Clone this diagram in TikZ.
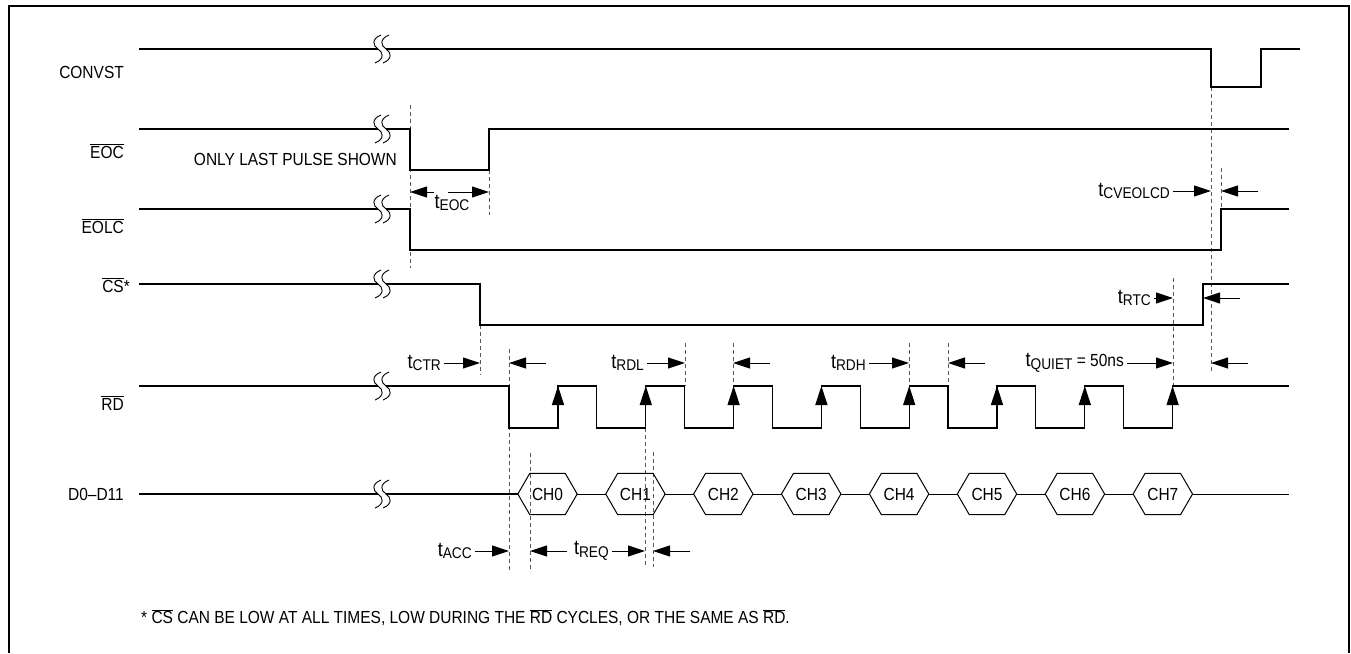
\documentclass[tikz,border=0pt]{standalone}
\usepackage{fontspec}
\setmainfont{Liberation Sans}[FakeStretch=0.885]
\usetikzlibrary{arrows.meta}
\newcommand{\ovl}[1]{$\overline{\mbox{#1}}$}
\newcommand{\tsub}[1]{{\fontsize{20.5}{20}\selectfont t}\raisebox{-2.5pt}{\fontsize{15.5}{15}\selectfont #1}}
\tikzset{brk/.pic={
  \fill[white] (0,-2) rectangle (8,2);
  \foreach \s in {0,8}
    \draw[line width=0.9pt] (\s+3,-14) .. controls (\s-7,-10) and (\s-5,-3) .. (\s,0)
      .. controls (\s+5,3) and (\s+7,10) .. (\s-3,14);
}}
\begin{document}
\begin{tikzpicture}[x=1pt, y=-1pt, font=\fontsize{17.5}{20}\selectfont,
  sig/.style={line width=1.3pt},
  guide/.style={line width=0.9pt, black!65, dash pattern=on 4pt off 3pt},
  dim/.style={line width=1pt, -{Triangle[length=17pt,width=11pt]}},
  edgetip/.style={line width=1.3pt, -{Triangle[length=19pt,width=12pt]}},
  lbl/.style={anchor=east, inner sep=0pt},
  tlbl/.style={anchor=east, inner sep=0pt},
  hexa/.style={minimum width=59pt, minimum height=41pt, inner sep=0pt}]
  \useasboundingbox (0,0) rectangle (1351,653);
  \draw[line width=2pt] (9,653) -- (9,6) -- (1349,6) -- (1349,653);

  % signal names
  \node[lbl] (convst) at (124,72)  {CONVST};
  \node[lbl] (eoc)    at (124,151) {\ovl{EOC}};
  \node[lbl] (eolc)   at (124,226) {\ovl{EOLC}};
  \node[lbl] (cs)     at (130,285) {\ovl{CS}*};
  \node[lbl] (rd)     at (124,403) {\ovl{RD}};
  \node[lbl] (data)   at (124,494) {D0--D11};
  \node[lbl] (only)   at (397,159) {ONLY LAST PULSE SHOWN};

  % guide lines
  \foreach \n/\x/\a/\b in {eocF/410/105/268, eocR/489/170/215, csF/480/325/375,
      rdF0/509/349/572, chA/530/453/572, rdR1/645/428/567, chB/653/452/567,
      rdF2/685/343/386, rdR2/733/343/386, rdR4/909/343/386, rdF5/948/343/386,
      rdR7/1173/278/386, cvF/1211/87/373, eolcR/1221/168/209}
    {\coordinate (\n) at (\x,\a); \draw[guide] (\n) -- (\x,\b);}
  \coordinate (csR) at (1203,298);

  % waveforms
  \draw[sig] (139,49) -- (1211,49) -- (1211,87) -- (1261,87) -- (1261,49) -- (1300,49);
  \draw[sig] (139,129) -- (410,129) -- (410,170) -- (489,170) -- (489,129) -- (1289,129);
  \draw[sig] (139,209) -- (410,209) -- (410,250) -- (1221,250) -- (1221,209) -- (1289,209);
  \draw[sig] (139,284) -- (480,284) -- (480,325) -- (1203,325) -- (1203,284) -- (1289,284);
  \draw[sig] (139,386) foreach \i in {0,...,7}
    { -- ({509+87.8*\i},386) -- ({509+87.8*\i},428) -- ({558+87.8*\i},428) -- ({558+87.8*\i},386)}
    -- (1289,386);
  \foreach \i in {0,...,7}
    \draw[edgetip] ({558+87.8*\i},420) -- ({558+87.8*\i},386);

  % data bus
  \foreach \i in {0,...,7} {
    \node[hexa] (ch\i) at ({547.5+87.9*\i},494) {CH\i};
    \draw[line width=1pt] (ch\i.west) -- ([xshift=12pt]ch\i.north west) -- ([xshift=-12pt]ch\i.north east)
      -- (ch\i.east) -- ([xshift=-12pt]ch\i.south east) -- ([xshift=12pt]ch\i.south west) -- cycle;
  }
  \draw[sig] (139,494) -- (ch0.west);
  \foreach \i [evaluate=\i as \j using int(\i+1)] in {0,...,6}
    \draw[line width=1pt] (ch\i.east) -- (ch\j.west);
  \draw[line width=1pt] (ch7.east) -- (1289,494);

  % breaks
  \foreach \y in {49,129,209,284,386,494}
    \pic at (378,\y) {brk};

  % timing labels
  \node[inner sep=0pt] (teoc) at (452,203) {\tsub{EOC}};
  \coordinate (eocL) at (434,192);
  \coordinate (eocM) at (448,192);
  \draw[dim] (eocL) -- (eocL -| eocF);
  \draw[dim] (eocM) -- (eocM -| eocR);

  \node[tlbl] (tctr)  at (441,363)  {\tsub{CTR}};
  \node[tlbl] (trdl)  at (644,363)  {\tsub{RDL}};
  \node[tlbl] (trdh)  at (866,363)  {\tsub{RDH}};
  \node[tlbl] (tquiet) at (1124,363) {\tsub{QUIET} = 50ns};
  \node[tlbl] (trtc)  at (1151,298) {\tsub{RTC}};
  \node[tlbl] (tcv)   at (1170,191) {\tsub{CVEOLCD}};
  \node[tlbl] (tacc)  at (472,551)  {\tsub{ACC}};
  \node[tlbl] (treq)  at (609,551)  {\tsub{REQ}};

  \draw[dim] ([xshift=3pt]tctr.east) -- (tctr.east -| csF);
  \draw[dim] ([xshift=3pt]trdl.east) -- (trdl.east -| rdF2);
  \draw[dim] ([xshift=3pt]trdh.east) -- (trdh.east -| rdR4);
  \draw[dim] ([xshift=3pt]tquiet.east) -- (tquiet.east -| rdR7);
  \draw[dim] ([xshift=3pt]trtc.east) -- (trtc.east -| rdR7);
  \draw[dim] ([xshift=3pt]tcv.east) -- (tcv.east -| cvF);
  \draw[dim] ([xshift=3pt]tacc.east) -- (tacc.east -| rdF0);
  \draw[dim] ([xshift=3pt]treq.east) -- (treq.east -| rdR1);

  \foreach \lb/\e in {tctr/rdF0, trdl/rdR2, trdh/rdF5, tquiet/cvF, trtc/csR, tcv/eolcR, tacc/chA, treq/chB}
    \draw[dim] (\lb.east -| \e) ++(37,0) -- ++(-37,0);

  % footnote
  \node[anchor=west, inner sep=0pt] (note) at (141,618)
    {* \ovl{CS} CAN BE LOW AT ALL TIMES, LOW DURING THE \ovl{RD} CYCLES, OR THE SAME AS \ovl{RD}.};
\end{tikzpicture}
\end{document}
